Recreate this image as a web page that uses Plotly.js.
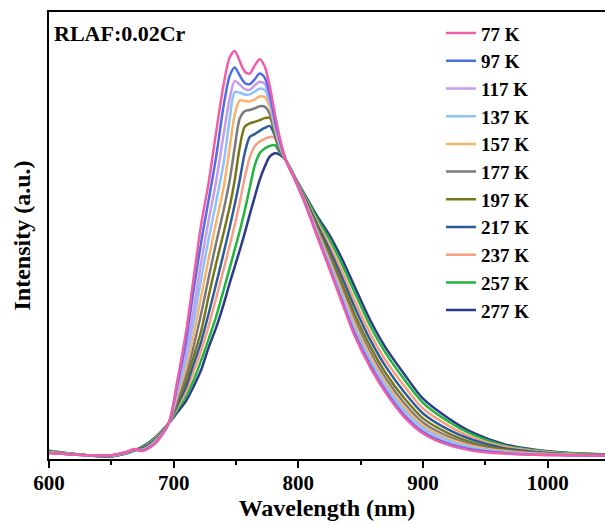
<!DOCTYPE html>
<html>
<head>
<meta charset="utf-8">
<script src="https://cdn.plot.ly/plotly-3.0.1.min.js"></script>
<style>html,body{margin:0;padding:0;background:#fff;}#chart{width:605px;height:525px;}</style>
</head>
<body>
<div id="chart"></div>
<script>
// Wavelength grid (nm)
const wavelength = [600,630,650,663,668,675,685,696,703,710,716,722,728,734,740,745,749,753,757,761,765,769,773,777,781,785,790,797,805,815,825,835,845,858,870,885,900,920,940,965,990,1015,1046];

// Series labels and colours
const seriesNames = ["77 K","97 K","117 K","137 K","157 K","177 K","197 K","217 K","237 K","257 K","277 K"];
const seriesColors = ["#F25DA8","#4F6EE6","#C69BF0","#8CC2F6","#F8B26C","#7A7A7A","#77771A","#2C5C9C","#F5A080","#22B43C","#2B3A8C"];

// Normalized intensity (a.u.)
const I77  = [.012,.007,.007,.016,.022,.017,.035,.085,.190,.310,.440,.570,.672,.795,.912,.980,.995,.970,.945,.940,.960,.975,.958,.910,.845,.785,.728,.683,.625,.543,.462,.380,.300,.220,.160,.100,.060,.032,.018,.011,.008,.007,.006];
const I97  = [.012,.007,.007,.015,.021,.018,.036,.085,.182,.290,.410,.527,.630,.735,.860,.935,.955,.935,.917,.914,.926,.940,.930,.890,.830,.778,.728,.683,.626,.545,.465,.384,.305,.225,.164,.104,.063,.035,.020,.012,.008,.007,.006];
const I117 = [.013,.007,.006,.015,.020,.019,.037,.085,.172,.263,.362,.477,.580,.675,.790,.880,.922,.913,.902,.900,.911,.920,.915,.880,.825,.773,.728,.683,.627,.547,.469,.389,.310,.229,.169,.108,.067,.037,.022,.013,.009,.007,.006];
const I137 = [.013,.007,.006,.015,.020,.019,.038,.085,.163,.242,.332,.437,.535,.625,.720,.830,.895,.893,.889,.889,.896,.903,.900,.870,.817,.768,.728,.684,.628,.551,.475,.397,.319,.238,.178,.117,.074,.043,.025,.015,.010,.008,.006];
const I157 = [.014,.007,.006,.014,.020,.020,.040,.085,.153,.223,.300,.394,.487,.575,.660,.760,.840,.874,.873,.872,.877,.884,.883,.860,.810,.764,.728,.684,.630,.555,.482,.406,.329,.248,.186,.125,.080,.048,.029,.017,.011,.008,.007];
const I177 = [.014,.007,.006,.014,.020,.021,.041,.085,.145,.204,.273,.352,.440,.525,.605,.680,.760,.830,.848,.851,.855,.860,.859,.842,.802,.760,.728,.685,.631,.559,.489,.414,.338,.257,.195,.134,.087,.053,.032,.018,.012,.009,.007];
const I197 = [.015,.007,.005,.014,.020,.022,.042,.085,.137,.190,.248,.310,.395,.475,.550,.615,.680,.760,.810,.818,.822,.826,.831,.832,.797,.757,.728,.685,.634,.565,.499,.427,.353,.271,.208,.146,.097,.061,.037,.021,.013,.010,.007];
const I217 = [.016,.007,.005,.013,.019,.024,.044,.085,.130,.175,.229,.284,.352,.425,.500,.565,.620,.680,.745,.785,.792,.800,.807,.812,.790,.753,.728,.686,.637,.571,.510,.442,.370,.287,.224,.161,.109,.070,.044,.024,.015,.010,.008];
const I237 = [.016,.007,.005,.013,.019,.025,.046,.085,.124,.163,.210,.262,.322,.390,.460,.520,.570,.625,.685,.735,.762,.774,.780,.785,.783,.752,.728,.687,.639,.578,.522,.457,.386,.303,.239,.176,.121,.080,.050,.028,.017,.011,.008];
const I257 = [.017,.007,.004,.012,.018,.027,.048,.085,.118,.152,.190,.238,.290,.345,.410,.465,.510,.555,.605,.660,.715,.745,.757,.763,.765,.748,.728,.687,.643,.586,.535,.474,.406,.321,.257,.192,.135,.090,.057,.031,.019,.012,.009];
const I277 = [.018,.007,.004,.012,.018,.028,.050,.085,.112,.140,.175,.215,.270,.318,.375,.428,.468,.508,.550,.595,.638,.680,.712,.737,.745,.742,.728,.688,.645,.592,.545,.487,.420,.335,.270,.205,.145,.098,.062,.034,.020,.013,.009];

const xTickVals = [600,700,800,900,1000];
const xTickText = ["600","700","800","900","1000"];

const seriesData = [I77,I97,I117,I137,I157,I177,I197,I217,I237,I257,I277];

const FONT = "Liberation Serif, Times New Roman, serif";

const traces = [];
for (let k = seriesData.length - 1; k >= 0; k--) {
  traces.push({
    type: "scatter", mode: "lines",
    x: wavelength, y: seriesData[k], name: seriesNames[k],
    line: {color: seriesColors[k], width: 2.5, shape: "spline", smoothing: 0.8}
  });
}

const layout = {
  width: 605, height: 525,
  margin: {l: 49, r: 0, t: 12, b: 66},
  paper_bgcolor: "#ffffff", plot_bgcolor: "#ffffff",
  font: {family: FONT, color: "#000", weight: "bold"},
  showlegend: true,
  legend: {
    x: 0.705, y: 0.995, xanchor: "left", yanchor: "top",
    traceorder: "reversed",
    font: {family: FONT, size: 19, color: "#000", weight: "bold"},
    bgcolor: "rgba(0,0,0,0)", borderwidth: 0
  },
  xaxis: {
    range: [600, 1046],
    tickmode: "array", tickvals: xTickVals, ticktext: xTickText,
    ticks: "outside", ticklen: 7, tickwidth: 2, tickcolor: "#000",
    ticklabelstandoff: -3,
    minor: {dtick: 50, tick0: 600, ticks: "outside", ticklen: 4, tickwidth: 2, tickcolor: "#000", showgrid: false},
    showline: true, linewidth: 2, linecolor: "#000", mirror: true,
    showgrid: false, zeroline: false,
    tickfont: {family: FONT, size: 21, color: "#000", weight: "bold"},
    title: {text: "Wavelength (nm)", font: {family: FONT, size: 24, color: "#000", weight: "bold"}, standoff: 0}
  },
  yaxis: {
    range: [-0.0024, 1.0905],
    showticklabels: false, ticks: "",
    showline: true, linewidth: 2, linecolor: "#000", mirror: false,
    showgrid: false, zeroline: false,
    title: {text: "Intensity (a.u.)", font: {family: FONT, size: 24, color: "#000", weight: "bold"}, standoff: 10}
  },
  annotations: [{
    text: "RLAF:0.02Cr", xref: "paper", yref: "paper",
    x: 0.005, y: 0.985, xanchor: "left", yanchor: "top", showarrow: false,
    font: {family: FONT, size: 22, color: "#000", weight: "bold"}
  }]
};

Plotly.newPlot("chart", traces, layout, {displayModeBar: false, staticPlot: true});
</script>
</body>
</html>
